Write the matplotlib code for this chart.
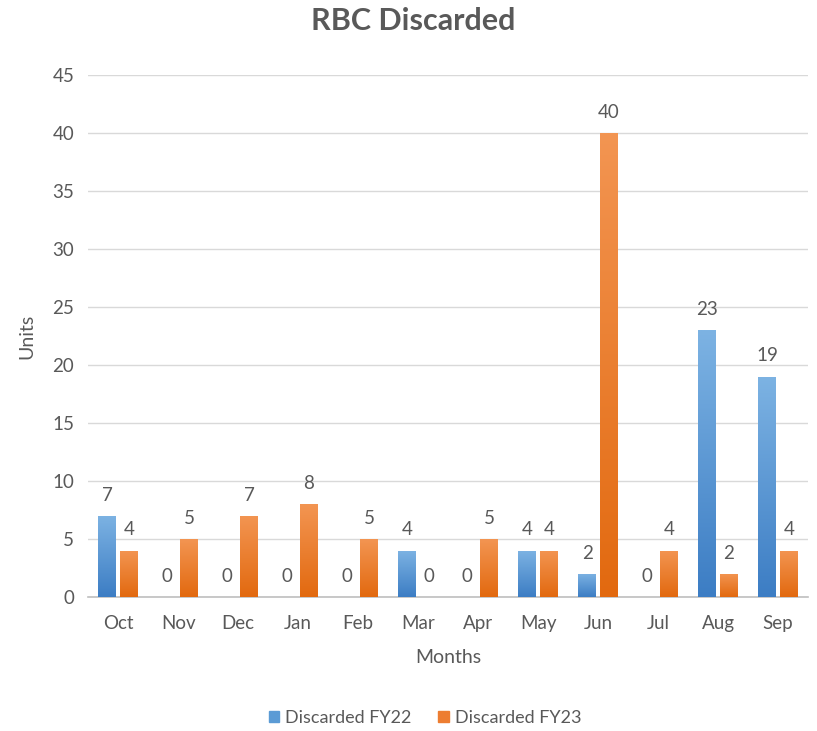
import matplotlib.pyplot as plt
import numpy as np
from matplotlib.colors import LinearSegmentedColormap
from matplotlib.patches import Patch

months = ["Oct", "Nov", "Dec", "Jan", "Feb", "Mar", "Apr", "May", "Jun", "Jul", "Aug", "Sep"]
fy22 = [7, 0, 0, 0, 0, 4, 0, 4, 2, 0, 23, 19]
fy23 = [4, 5, 7, 8, 5, 0, 5, 4, 40, 4, 2, 4]

plt.rcParams["font.family"] = ["Lato", "DejaVu Sans"]
grey = "#595959"

fig = plt.figure(figsize=(8.17, 7.31), dpi=100)
ax = fig.add_axes([0.108, 0.183, 0.881, 0.714])

x = np.arange(len(months))
w = 0.3
off = 0.18

blue_cmap = LinearSegmentedColormap.from_list("b", ["#3C7DC4", "#7DB3E3"])
orange_cmap = LinearSegmentedColormap.from_list("o", ["#E2690F", "#F39552"])

grad = np.linspace(0, 1, 256).reshape(-1, 1)


def gradient_bars(bars, cmap):
    for b in bars:
        h = b.get_height()
        if h <= 0:
            continue
        b.set_facecolor("none")
        x0 = b.get_x()
        im = ax.imshow(grad, cmap=cmap, origin="lower", aspect="auto",
                       extent=(x0, x0 + b.get_width(), 0, h), zorder=3)
        im.set_clip_path(b)


b1 = ax.bar(x - off, fy22, w, color="#5B9BD5", label="Discarded FY22", zorder=3, linewidth=0)
b2 = ax.bar(x + off, fy23, w, color="#ED7D31", label="Discarded FY23", zorder=3, linewidth=0)
gradient_bars(b1, blue_cmap)
gradient_bars(b2, orange_cmap)

for bars, vals in ((b1, fy22), (b2, fy23)):
    for b, v in zip(bars, vals):
        ax.annotate(str(v), (b.get_x() + b.get_width() / 2, v), xytext=(0, 9),
                    textcoords="offset points", ha="center", va="bottom",
                    fontsize=13.5, color=grey)

ax.set_xlim(-0.5, len(months) - 0.5)
ax.set_ylim(0, 45)
ax.set_yticks(range(0, 46, 5))
ax.set_xticks(x)
ax.set_xticklabels(months)
ax.tick_params(axis="x", length=0, labelsize=13.5, colors=grey, pad=13)
ax.tick_params(axis="y", length=0, labelsize=13.5, colors=grey, pad=10)
ax.yaxis.grid(True, color="#D9D9D9", linewidth=1, zorder=0)
ax.set_axisbelow(True)
for s in ("top", "right", "left"):
    ax.spines[s].set_visible(False)
ax.spines["bottom"].set_color("#BFBFBF")
ax.spines["bottom"].set_linewidth(1.2)

ax.set_xlabel("Months", fontsize=14, color=grey, labelpad=12)
ax.set_ylabel("Units", fontsize=14, color=grey, labelpad=12)

fig.suptitle("RBC Discarded", fontsize=22, fontweight="bold", color=grey, x=0.506, y=0.99)

handles = [Patch(color="#5B9BD5"), Patch(color="#ED7D31")]
fig.legend(handles, ["Discarded FY22", "Discarded FY23"], loc="center",
           bbox_to_anchor=(0.52, 0.018), ncol=2, frameon=False, fontsize=13,
           labelcolor=grey, handlelength=0.6, handleheight=0.6, columnspacing=1.5,
           handletextpad=0.3)

fig.savefig("out.png", dpi=100, facecolor="white")
